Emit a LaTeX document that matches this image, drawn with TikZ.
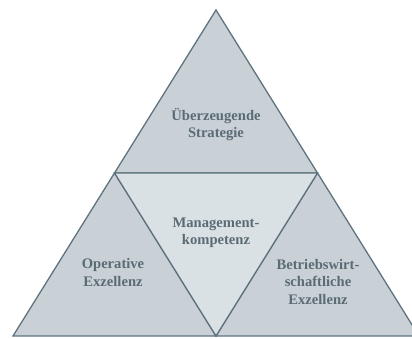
\documentclass[tikz,border=0pt]{standalone}
\usepackage{fontspec}
\setmainfont{Liberation Serif}
\begin{document}
\begin{tikzpicture}[x=1pt,y=-1pt,
  part/.style={draw=edgecol, line width=1.3pt, line join=miter},
  label/.style={text=txtcol, font=\bfseries\fontsize{14.6}{17.5}\selectfont, align=center, inner sep=0pt}]
\definecolor{edgecol}{HTML}{5E737E}
\definecolor{outerfill}{HTML}{C9D1D7}
\definecolor{innerfill}{HTML}{DAE1E5}
\definecolor{txtcol}{HTML}{5B6B74}
\useasboundingbox (0,0) rectangle (412,338);
\clip (0,0) rectangle (412,338);
% corners of the big triangle and midpoints of its sides
\coordinate (top) at (216,10);
\coordinate (bl) at (13,336);
\coordinate (br) at (419,336);
\coordinate (ml) at (114.5,173);
\coordinate (mr) at (317.5,173);
\coordinate (mb) at (216,336);
% the four sub-triangles
\filldraw[part, fill=outerfill] (top) -- (ml) -- (mr) -- cycle;
\filldraw[part, fill=outerfill] (ml) -- (bl) -- (mb) -- cycle;
\filldraw[part, fill=outerfill] (mr) -- (mb) -- (br) -- cycle;
\filldraw[part, fill=innerfill] (ml) -- (mr) -- (mb) -- cycle;
% labels
\node[label] (strat) at (216,124.5) {Überzeugende\\Strategie};
\node[label] (mgmt) at (216,233) {Management-\\kompetenz};
\node[label] (oper) at (113,272.5) {Operative\\Exzellenz};
\node[label] (bwl) at (318,281.5) {Betriebswirt-\\schaftliche\\Exzellenz};
\end{tikzpicture}
\end{document}
